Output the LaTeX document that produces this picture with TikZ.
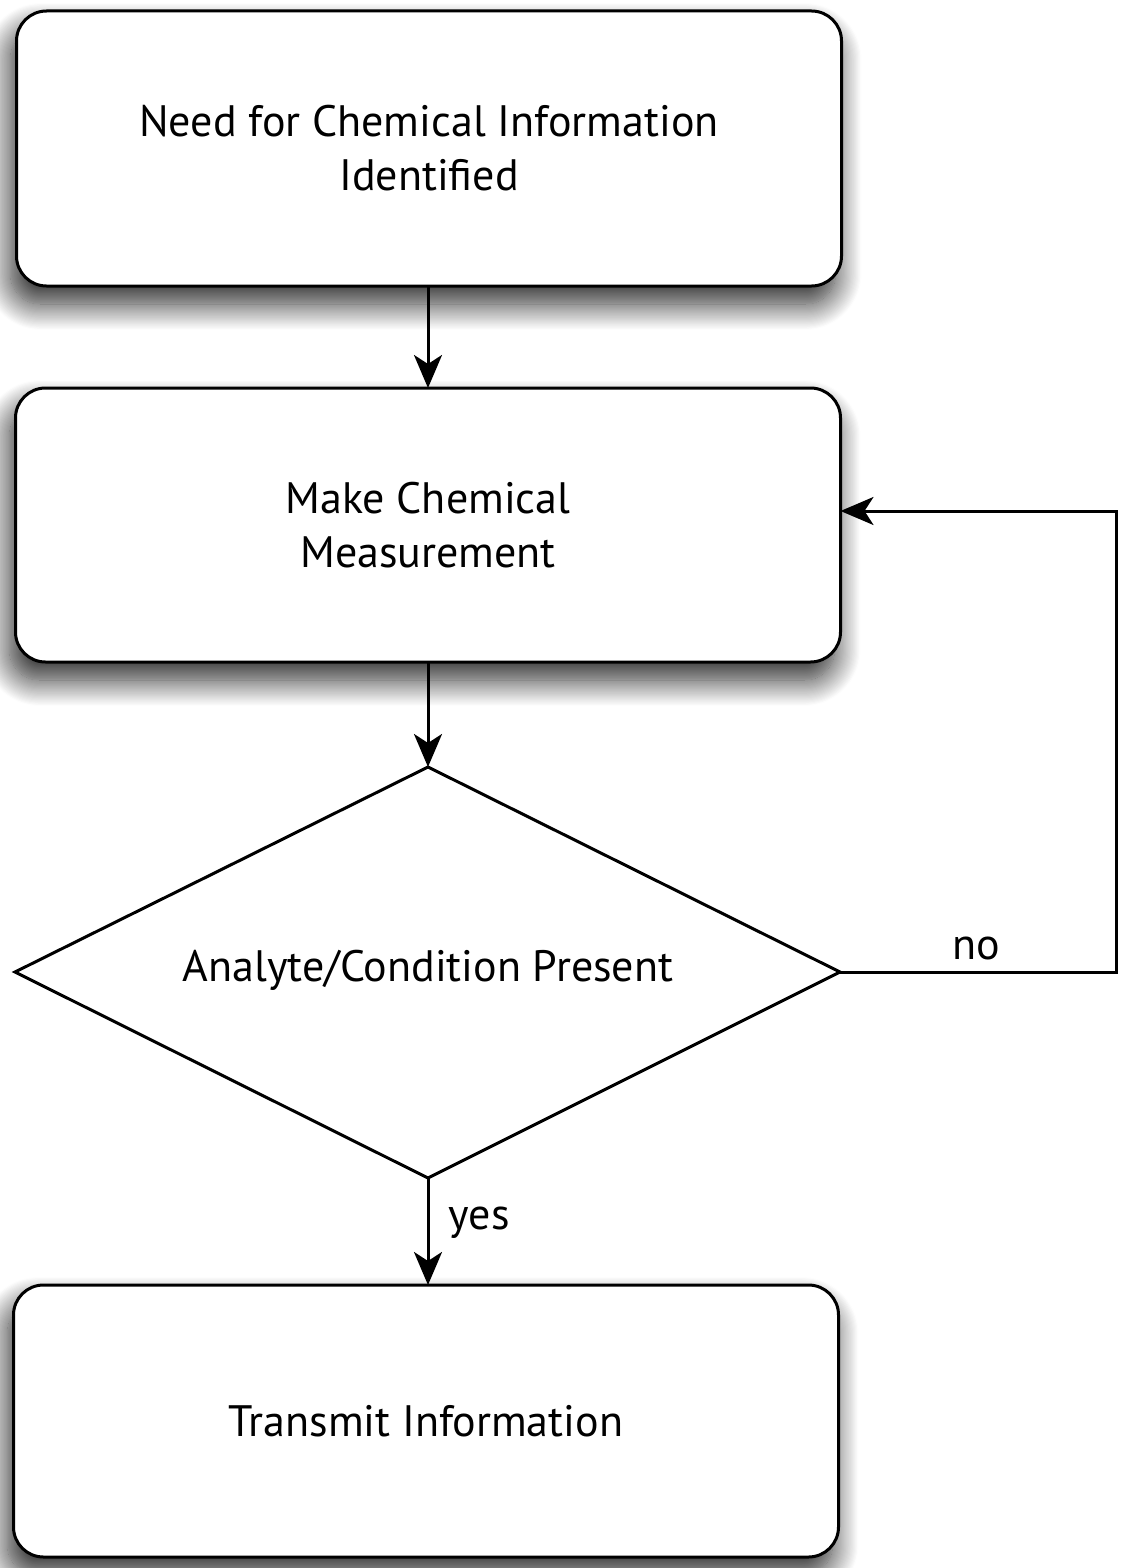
\documentclass[tikz,border=0pt]{standalone}
\usepackage{fontspec}
\setmainfont{PT Sans}
\usetikzlibrary{shadows.blur,arrows.meta}
\begin{document}
\begin{tikzpicture}[x=1pt,y=-1pt,
  every node/.style={font=\fontsize{44}{54}\selectfont},
  stepbox/.style={draw=black,line width=3pt,fill=white,rounded corners=30pt,
    minimum width=825pt,align=center,inner sep=0pt,outer sep=0pt,
    blur shadow={shadow xshift=-6pt,shadow yshift=-18pt,shadow blur radius=26pt,shadow opacity=85,shadow blur steps=24}},
  outline/.style={draw=black,line width=3pt,line join=miter},
  flow/.style={line width=3pt,-{Stealth[length=33pt,width=28pt,inset=9pt]}},
  lbl/.style={font=\fontsize{44}{54}\selectfont}]
\useasboundingbox (0,0) rectangle (1121,1568);
\node[stepbox,minimum height=275pt] (need) at (429,148.5) {Need for Chemical Information\\Identified};
\node[stepbox,minimum height=274pt] (make) at (428,525) {Make Chemical\\Measurement};
\node[stepbox,minimum height=272pt] (trans) at (426,1421) {Transmit Information};
% decision diamond
\coordinate (dtop) at (428,767);
\coordinate (dbot) at (428,1178);
\coordinate (dleft) at (15,972);
\coordinate (dright) at (840,972);
\draw[outline,fill=white] (dtop) -- (dright) -- (dbot) -- (dleft) -- cycle;
\node (dec) at (428,970) {Analyte/Condition Present};
\coordinate (c1) at (1116,972);
\coordinate (c2) at (1116,511);
\draw[flow] (need.south -| dtop) -- (make.north -| dtop);
\draw[flow] (make.south -| dtop) -- (dtop);
\draw[flow] (dbot) -- (trans.north -| dbot) node[lbl,midway,right,xshift=16pt,yshift=9pt] {yes};
\draw[flow] (dright) -- (c1) -- (c2) -- (make.east |- c2);
\node[lbl,above] (no) at (976,964) {no};
\end{tikzpicture}
\end{document}
